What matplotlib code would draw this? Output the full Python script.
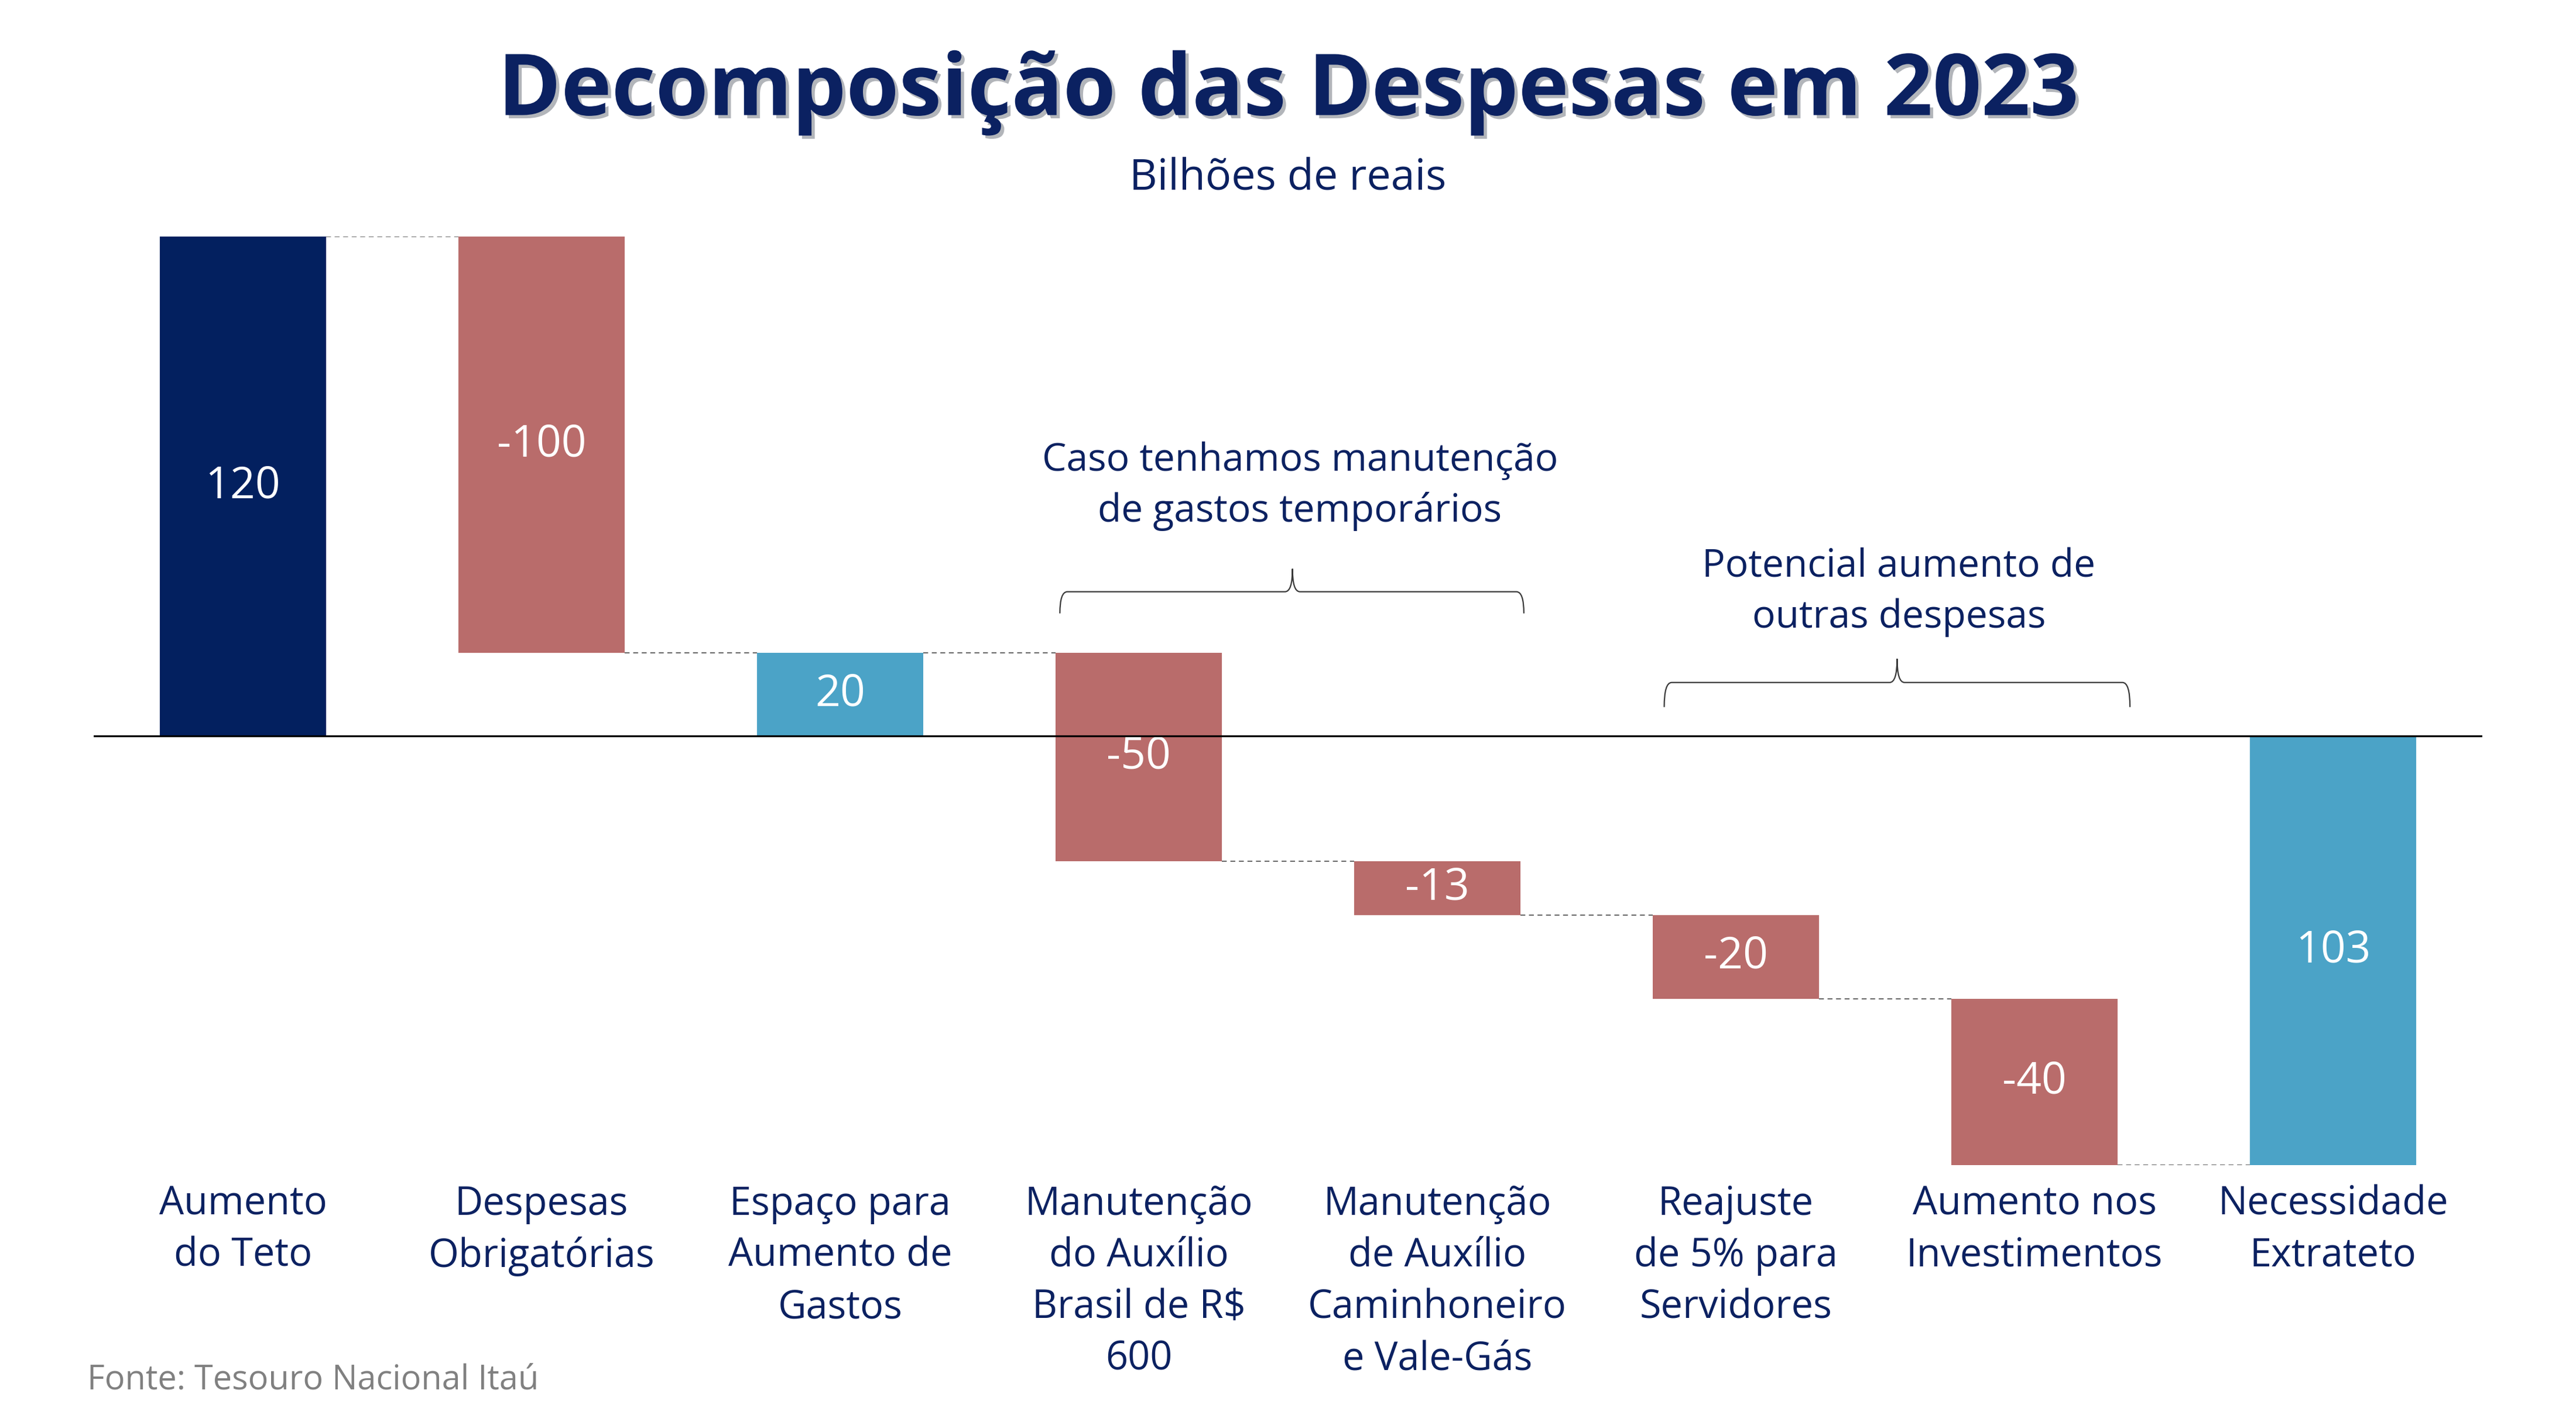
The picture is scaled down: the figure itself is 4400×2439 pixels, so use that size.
import matplotlib.pyplot as plt
import matplotlib.patheffects as pe
from matplotlib.path import Path
from matplotlib.patches import PathPatch

# dados (bilhões de reais)
categories = ["Aumento\ndo Teto", "Despesas\nObrigatórias", "Espaço para\nAumento de\nGastos",
              "Manutenção\ndo Auxílio\nBrasil de R$\n600",
              "Manutenção\nde Auxílio\nCaminhoneiro\ne Vale-Gás",
              "Reajuste\nde 5% para\nServidores", "Aumento nos\nInvestimentos",
              "Necessidade\nExtrateto"]
values = [120, -100, 20, -50, -13, -20, -40, 103]
kinds = ["total", "delta", "total", "delta", "delta", "delta", "delta", "total"]
bar_colors = ["#03205F", "#B96C6B", "#4BA3C7", "#B96C6B", "#B96C6B",
              "#B96C6B", "#B96C6B", "#4BA3C7"]

NAVY = "#0B2161"
FONT = "Open Sans"
plt.rcParams['font.family'] = [FONT, 'DejaVu Sans']

fig = plt.figure(figsize=(44, 24.39), dpi=100)
ax = fig.add_axes([0.03636, 0.18409, 0.92727, 0.65027])

W = 0.556
running = 0
levels = []
for i, (v, k, c) in enumerate(zip(values, kinds, bar_colors)):
    if k == "total":
        if i == len(values) - 1:
            bottom, height = 0, running
        else:
            bottom, height = 0, v
        running = bottom + height
    else:
        bottom, height = running, v
        running = running + v
    ax.bar(i, height, bottom=bottom, width=W, color=c, zorder=2)
    ax.text(i, bottom + height / 2, str(v), ha="center", va="center",
            color="white", fontsize=54, zorder=3)
    levels.append(running)

# linhas tracejadas de ligação
for i in range(len(values) - 1):
    ax.plot([i + W / 2, i + 1 - W / 2], [levels[i], levels[i]], color="#6a6a6a",
            lw=1.5, ls=(0, (4, 3)), zorder=1)

ax.axhline(0, color="black", lw=2.3, zorder=4)


def brace(x0, x1, xm, y_tip, y_h, y_top, r=0.025):
    verts = [(x0, y_tip), (x0, y_h), (x0 + r, y_h), (xm - r, y_h),
             (xm, y_h), (xm, y_top), (xm, y_h), (xm + r, y_h),
             (x1 - r, y_h), (x1, y_h), (x1, y_tip)]
    codes = [Path.MOVETO, Path.CURVE3, Path.CURVE3, Path.LINETO,
             Path.CURVE3, Path.CURVE3, Path.CURVE3, Path.CURVE3,
             Path.LINETO, Path.CURVE3, Path.CURVE3]
    ax.add_patch(PathPatch(Path(verts, codes), fill=False, ec="#3a3a3a",
                           lw=1.6, clip_on=False, zorder=3))


brace(2.736, 4.29, 3.515, 29.5, 34.7, 40.2)
ax.text(3.54, 60, "Caso tenhamos manutenção\nde gastos temporários", ha="center",
        va="center", color=NAVY, fontsize=47.5, linespacing=1.4)
brace(4.76, 6.32, 5.54, 7.0, 12.9, 18.6)
ax.text(5.546, 34.5, "Potencial aumento de\noutras despesas", ha="center",
        va="center", color=NAVY, fontsize=47.5, linespacing=1.4)

ax.set_xlim(-0.5, 7.5)
ax.set_ylim(-103, 120)
ax.set_xticks(range(len(categories)))
ax.set_xticklabels(categories, fontsize=48, color=NAVY, linespacing=1.4)
ax.tick_params(axis="x", length=0, pad=24)
ax.set_yticks([])
for s in ax.spines.values():
    s.set_visible(False)

fig.text(0.5, 0.935, "Decomposição das Despesas em 2023", ha="center", va="center",
         fontsize=105, fontweight="bold", color=NAVY,
         path_effects=[pe.SimplePatchShadow(offset=(4, -4), alpha=0.3), pe.Normal()])
fig.text(0.5, 0.875, "Bilhões de reais", ha="center", va="center",
         fontsize=53, color=NAVY)
fig.text(0.0339, 0.0336, "Fonte: Tesouro Nacional Itaú", ha="left", va="center",
         fontsize=41.5, color="#808080")

fig.savefig("out.png", dpi=100)
